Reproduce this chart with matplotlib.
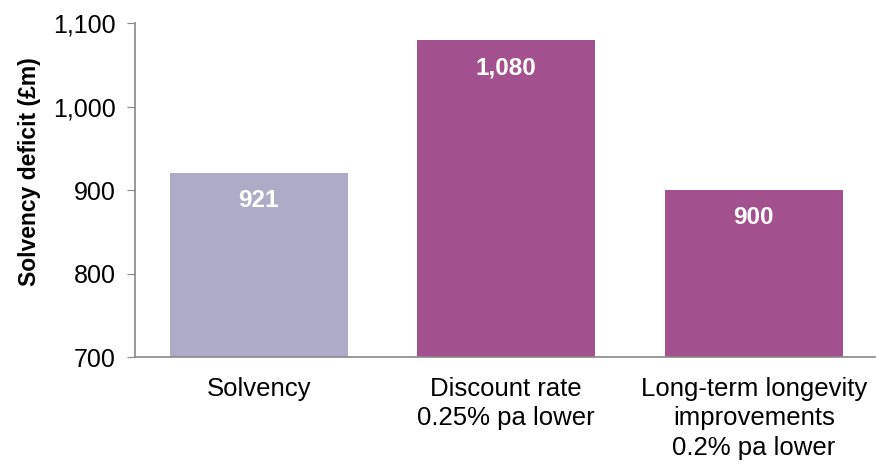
#!/usr/bin/env python3

import matplotlib
matplotlib.use("Agg")
import matplotlib.pyplot as plt
from matplotlib.ticker import FuncFormatter

categories = ["Solvency", "Discount rate\n0.25% pa lower",
              "Long-term longevity\nimprovements\n0.2% pa lower"]
values = [921, 1080, 900]
value_labels = ["921", "1,080", "900"]
colors = ["#aeabc8", "#a3508e", "#a3508e"]

plt.rcParams['font.family'] = ['Liberation Sans', 'DejaVu Sans']

fig = plt.figure(figsize=(8.76, 4.70), dpi=100)
ax = fig.add_axes([0.154, 0.240, 0.845, 0.711])

bars = ax.bar(range(len(values)), values, width=0.72, color=colors)

for b, lab in zip(bars, value_labels):
	ax.annotate(lab, (b.get_x() + b.get_width() / 2, b.get_height()),
				xytext=(0, -20), textcoords="offset points",
				ha="center", va="center", color="white",
				fontsize=17.5, fontweight="bold")

ax.set_ylim(700, 1100)
ax.set_xlim(-0.5, 2.49)
ax.set_yticks([700, 800, 900, 1000, 1100])
ax.yaxis.set_major_formatter(FuncFormatter(lambda v, p: f"{int(v):,}"))
ax.set_xticks(range(len(categories)))
ax.set_xticklabels(categories, fontsize=18.5, linespacing=1.3)
ax.tick_params(axis="y", labelsize=18, length=6, color="#888888", pad=8)
ax.tick_params(axis="x", length=0, pad=14)
ax.set_ylabel("Solvency deficit (£m)", fontsize=16.5, fontweight="bold")
ax.yaxis.set_label_coords(-0.127, 0.554)

for s in ["top", "right"]:
	ax.spines[s].set_visible(False)
for s in ["left", "bottom"]:
	ax.spines[s].set_color("#888888")
	ax.spines[s].set_linewidth(1.2)

fig.savefig("out.png", dpi=100)
